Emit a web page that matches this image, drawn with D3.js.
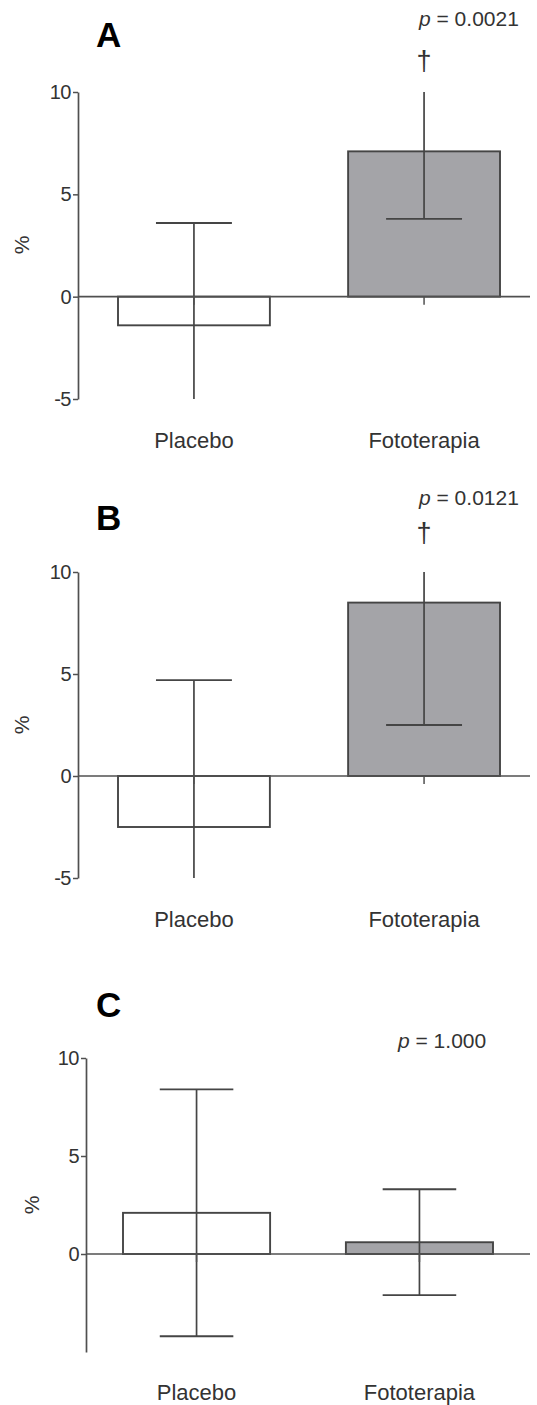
<!DOCTYPE html>
<html lang="es">
<head>
  <meta charset="UTF-8">
  <title>Placebo vs Fototerapia</title>
  <style>
    body { margin: 0; background: #fff; }
    text { font-family: Arial, "Liberation Sans", sans-serif; fill: #333; }
  </style>
</head>
<body>
  <script src="https://cdn.jsdelivr.net/npm/d3@7"></script>
  <script>
// datos
const categories = ['Placebo', 'Fototerapia'];
const meanA = [-1.4, 7.1];
const sdA = [5.0, 3.3];
const meanB = [-2.5, 8.5];
const sdB = [7.2, 6.0];
const meanC = [2.1, 0.6];
const sdC = [6.3, 2.7];
const panelLetters = ['A', 'B', 'C'];
const pLabels = ['0.0021', '0.0121', '1.000'];
const daggers = [true, true, false];
const yTicksAB = [-5, 0, 5, 10];
const yTicksC = [0, 5, 10];
const yDomain = [-5, 10];

const width = 537;
const height = 1405;

const svg = d3.select('body')
  .append('svg')
  .attr('width', width)
  .attr('height', height);

// posición de cada panel
const panels = [
  { mean: meanA, sd: sdA, ticks: yTicksAB, axisX: 78, yTop: 92, yBottom: 399, band: [118, 500],
    letterY: 47, pX: 419, pY: 26, daggerY: 70, pctX: 22, pctY: 245, labelY: 448 },
  { mean: meanB, sd: sdB, ticks: yTicksAB, axisX: 78, yTop: 572, yBottom: 878, band: [118, 500],
    letterY: 530, pX: 419, pY: 505, daggerY: 542, pctX: 22, pctY: 725, labelY: 927 },
  { mean: meanC, sd: sdC, ticks: yTicksC, axisX: 86, yTop: 1058, yBottom: 1352, band: [123, 493],
    letterY: 1017, pX: 398, pY: 1048, daggerY: null, pctX: 32, pctY: 1205, labelY: 1400 }
];

const lineColor = '#454545';

panels.forEach((p, k) => {
  const g = svg.append('g');

  const y = d3.scaleLinear().domain(yDomain).range([p.yBottom, p.yTop]);
  const x = d3.scaleBand().domain(categories).range(p.band).paddingInner(0.34).paddingOuter(0);
  const bw = x.bandwidth();

  // eje y
  const yAxis = g.append('g')
    .attr('transform', `translate(${p.axisX},0)`)
    .call(d3.axisLeft(y).tickValues(p.ticks).tickSize(5).tickSizeOuter(0).tickPadding(2)
      .tickFormat(d => String(d)));
  yAxis.select('.domain').attr('stroke', '#505050').attr('stroke-width', 1.7);
  yAxis.selectAll('.tick line').attr('stroke', '#505050').attr('stroke-width', 1.5);
  yAxis.selectAll('.tick text')
    .attr('font-size', 20)
    .attr('letter-spacing', -0.5)
    .attr('font-family', 'Arial, "Liberation Sans", sans-serif')
    .attr('fill', '#333');

  // barras
  g.selectAll('.bar')
    .data(categories)
    .enter()
    .append('rect')
    .attr('class', 'bar')
    .attr('x', d => x(d))
    .attr('width', bw)
    .attr('y', (d, i) => y(Math.max(0, p.mean[i])))
    .attr('height', (d, i) => Math.abs(y(p.mean[i]) - y(0)))
    .attr('fill', (d, i) => i === 0 ? '#ffffff' : '#a4a4a8')
    .attr('stroke', lineColor)
    .attr('stroke-width', 1.9);

  // barras de error (recortadas al dominio)
  categories.forEach((c, i) => {
    const cx = x(c) + bw / 2;
    const hi = p.mean[i] + p.sd[i];
    const lo = p.mean[i] - p.sd[i];
    const hiC = Math.min(hi, yDomain[1]);
    const loC = Math.max(lo, yDomain[0]);
    g.append('line')
      .attr('x1', cx).attr('x2', cx)
      .attr('y1', y(loC)).attr('y2', y(hiC))
      .attr('stroke', lineColor).attr('stroke-width', 1.7);
    if (hi <= yDomain[1]) {
      g.append('line')
        .attr('x1', cx - bw / 4).attr('x2', cx + bw / 4)
        .attr('y1', y(hi)).attr('y2', y(hi))
        .attr('stroke', lineColor).attr('stroke-width', 1.9);
    }
    if (lo >= yDomain[0]) {
      g.append('line')
        .attr('x1', cx - bw / 4).attr('x2', cx + bw / 4)
        .attr('y1', y(lo)).attr('y2', y(lo))
        .attr('stroke', lineColor).attr('stroke-width', 1.9);
    }
  });

  // línea del cero con marcas
  const xAxis = g.append('g')
    .attr('transform', `translate(0,${y(0)})`)
    .call(d3.axisBottom(x).tickSize(8).tickFormat(''));
  xAxis.select('.domain').remove();
  xAxis.selectAll('.tick line').attr('stroke', '#505050').attr('stroke-width', 1.5);
  g.append('line')
    .attr('x1', p.axisX).attr('x2', 530)
    .attr('y1', y(0)).attr('y2', y(0))
    .attr('stroke', '#505050').attr('stroke-width', 1.7);

  // etiquetas de categoría
  g.selectAll('.cat')
    .data(categories)
    .enter()
    .append('text')
    .attr('class', 'cat')
    .attr('x', d => x(d) + bw / 2)
    .attr('y', p.labelY)
    .attr('text-anchor', 'middle')
    .attr('font-size', 22)
    .text(d => d);

  // título del eje
  g.append('text')
    .attr('transform', `translate(${p.pctX + 7},${p.pctY}) rotate(-90)`)
    .attr('text-anchor', 'middle')
    .attr('font-size', 21)
    .text('%');

  // letra del panel
  g.append('text')
    .attr('x', 96)
    .attr('y', p.letterY)
    .attr('font-family', 'Lato, "Open Sans", sans-serif')
    .attr('font-weight', 900)
    .attr('font-size', 35)
    .style('fill', '#000')
    .text(panelLetters[k]);

  // valor p
  const pt = g.append('text')
    .attr('x', p.pX)
    .attr('y', p.pY)
    .attr('font-size', 21);
  pt.append('tspan').attr('font-style', 'italic').text('p');
  pt.append('tspan').text(' = ' + pLabels[k]);

  if (daggers[k]) {
    g.append('text')
      .attr('x', x(categories[1]) + bw / 2)
      .attr('y', p.daggerY)
      .attr('text-anchor', 'middle')
      .attr('font-size', 27)
      .text('†');
  }
});
  </script>
</body>
</html>
